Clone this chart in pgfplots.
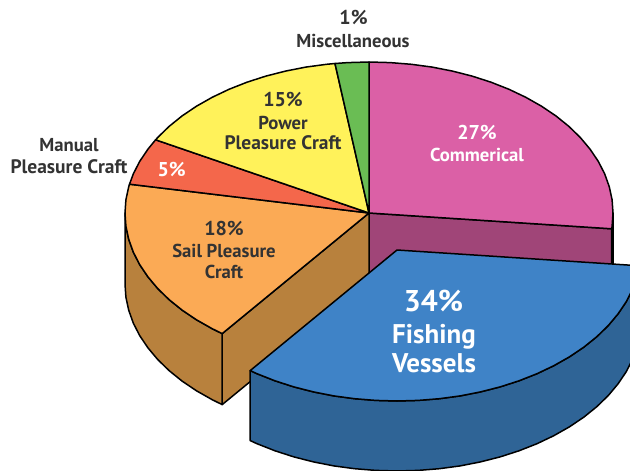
\documentclass[border=0pt]{standalone}
\usepackage{pgfplots}
\pgfplotsset{compat=1.18}
\usepackage{fontspec}
\setmainfont{PT Sans}
\definecolor{cpink}{HTML}{DB60A6}
\definecolor{cpinkd}{HTML}{A04578}
\definecolor{corange}{HTML}{FBAA55}
\definecolor{cbrown}{HTML}{B8813D}
\definecolor{cblue}{HTML}{3F83C7}
\definecolor{cblued}{HTML}{2F6496}
\definecolor{cred}{HTML}{F4674B}
\definecolor{cyellow}{HTML}{FFF25A}
\definecolor{cgreen}{HTML}{6ABD54}
\definecolor{ctext}{HTML}{333333}
\begin{document}
\begin{tikzpicture}[lab/.style={anchor=base,inner sep=0pt,font=\bfseries\fontsize{18.7}{18.7}\selectfont,text=ctext},
 wlab/.style={lab,text=white}]
\begin{axis}[name=ax,scale only axis,width=630pt,height=471pt,xmin=0,xmax=630,ymin=0,ymax=471,y dir=reverse,hide axis,
 every axis plot/.append style={draw=black,line width=1.5pt,line join=round,mark=none}]
% pink side sliver and inner wall
\addplot[fill=cpinkd] coordinates {(613,213)(612.1,226.2)(611.7,228.8)(611.7,299.8)(612.1,297.2)(613,284)} -- cycle;
\addplot[fill=cpinkd] coordinates {(369,213)(611.7,228.8)(611.7,299.8)(369,284)} -- cycle;
% orange inner wall
\addplot[fill=cbrown] coordinates {(369,213)(222.2,333.6)(222.2,404.6)(369,284)} -- cycle;
% orange outer wall
\addplot[fill=cbrown] coordinates {(222.2,333.6)(212.2,328.7)(196.5,319.8)(182.1,310.1)(169.1,299.6)(157.7,288.5)(147.9,276.8)(139.7,264.6)(133.3,252.1)(128.7,239.2)(125.9,226.2)(125,213)
 (125,284)(125.9,297.2)(128.7,310.2)(133.3,323.1)(139.7,335.6)(147.9,347.8)(157.7,359.5)(169.1,370.6)(182.1,381.1)(196.5,390.8)(212.2,399.7)(222.2,404.6)} -- cycle;
% pink top
\addplot[fill=cpink] coordinates {(369,213)(369,62)(390.3,62.6)(411.4,64.3)(432.2,67.1)(452.5,71.1)(472.1,76.1)(491,82.2)(509,89.3)(525.8,97.3)(541.5,106.2)(555.9,115.9)(568.9,126.4)(580.3,137.5)(590.1,149.2)(598.3,161.4)(604.7,173.9)(609.3,186.8)(612.1,199.8)(613,213)(612.1,226.2)(611.7,228.8)} -- cycle;
% orange top
\addplot[fill=corange] coordinates {(369,213)(129.5,184.2)(128.7,186.8)(125.9,199.8)(125,213)(125.9,226.2)(128.7,239.2)(133.3,252.1)(139.7,264.6)(147.9,276.8)(157.7,288.5)(169.1,299.6)(182.1,310.1)(196.5,319.8)(212.2,328.7)(222.2,333.6)} -- cycle;
% red top
\addplot[fill=cred] coordinates {(369,213)(155.6,139.8)(147.9,149.2)(139.7,161.4)(133.3,173.9)(129.5,184.2)} -- cycle;
% yellow top
\addplot[fill=cyellow] coordinates {(369,213)(335,63.5)(326.6,64.3)(305.8,67.1)(285.5,71.1)(265.9,76.1)(247,82.2)(229,89.3)(212.2,97.3)(196.5,106.2)(182.1,115.9)(169.1,126.4)(157.7,137.5)(155.6,139.8)} -- cycle;
% green top
\addplot[fill=cgreen] coordinates {(369,213)(369,62)(347.7,62.6)(335,63.5)} -- cycle;
% blue side
\addplot[fill=cblued] coordinates {(641,250)(640.1,263.2)(637.3,276.2)(632.7,289.1)(626.3,301.6)(618.1,313.8)(608.3,325.5)(596.9,336.6)(583.9,347.1)(569.5,356.8)(553.8,365.7)(537,373.7)(519,380.8)(500.1,386.9)(480.5,391.9)(460.2,395.9)(439.4,398.7)(418.3,400.4)(397,401)(375.7,400.4)(354.6,398.7)(333.8,395.9)(313.5,391.9)(293.9,386.9)(275,380.8)(257,373.7)(250.2,370.6)
 (250.2,440.6)(257,443.7)(275,450.8)(293.9,456.9)(313.5,461.9)(333.8,465.9)(354.6,468.7)(375.7,470.4)(397,471)(418.3,470.4)(439.4,468.7)(460.2,465.9)(480.5,461.9)(500.1,456.9)(519,450.8)(537,443.7)(553.8,435.7)(569.5,426.8)(583.9,417.1)(596.9,406.6)(608.3,395.5)(618.1,383.8)(626.3,371.6)(632.7,359.1)(637.3,346.2)(640.1,333.2)(641,320)} -- cycle;
% blue top
\addplot[fill=cblue] coordinates {(397,250)(639.7,265.8)(637.3,276.2)(632.7,289.1)(626.3,301.6)(618.1,313.8)(608.3,325.5)(596.9,336.6)(583.9,347.1)(569.5,356.8)(553.8,365.7)(537,373.7)(519,380.8)(500.1,386.9)(480.5,391.9)(460.2,395.9)(439.4,398.7)(418.3,400.4)(397,401)(375.7,400.4)(354.6,398.7)(333.8,395.9)(313.5,391.9)(293.9,386.9)(275,380.8)(257,373.7)(250.2,370.6)} -- cycle;
% labels
\node[lab,font=\bfseries\fontsize{20}{20}\selectfont] at (axis cs:353.5,24) {1\%};
\node[lab] at (axis cs:353,47) {Miscellaneous};
\node[lab] at (axis cs:69,151) {Manual};
\node[lab,font=\bfseries\fontsize{19.5}{19.5}\selectfont] at (axis cs:69,173) {Pleasure Craft};
\node[wlab,font=\bfseries\fontsize{20}{20}\selectfont] at (axis cs:171.7,176) {5\%};
\node[lab,font=\bfseries\fontsize{20}{20}\selectfont] at (axis cs:283,106.7) {15\%};
\node[lab] at (axis cs:283,129) {Power};
\node[lab,font=\bfseries\fontsize{19.5}{19.5}\selectfont] at (axis cs:283,149.3) {Pleasure Craft};
\node[wlab,font=\bfseries\fontsize{20}{20}\selectfont] at (axis cs:477,139) {27\%};
\node[wlab] at (axis cs:477,161) {Commerical};
\node[lab,font=\bfseries\fontsize{20}{20}\selectfont] at (axis cs:224,235.7) {18\%};
\node[lab] at (axis cs:224,257.7) {Sail Pleasure};
\node[lab] at (axis cs:224,278) {Craft};
\node[wlab,font=\bfseries\fontsize{30}{30}\selectfont] at (axis cs:433.5,311.7) {34\%};
\node[wlab,font=\bfseries\fontsize{27}{27}\selectfont] at (axis cs:434,343) {Fishing};
\node[wlab,font=\bfseries\fontsize{27}{27}\selectfont] at (axis cs:434,372.5) {Vessels};
\end{axis}
\pgfresetboundingbox
\path (ax.south west) rectangle (ax.north east);
\end{tikzpicture}
\end{document}
